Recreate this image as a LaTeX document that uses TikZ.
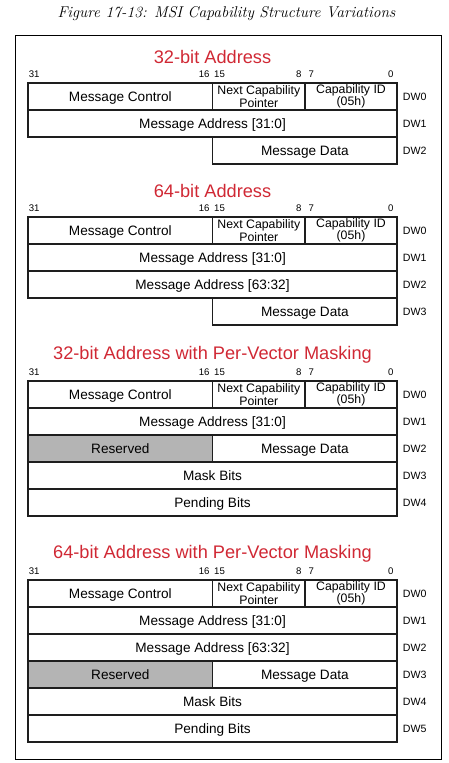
\documentclass[tikz,border=0pt]{standalone}
\usepackage{fontspec}
\setsansfont{Liberation Sans}
\definecolor{hdred}{RGB}{208,40,52}
\definecolor{resgray}{RGB}{180,180,180}
\definecolor{lineblk}{RGB}{30,30,30}
\tikzset{
  cell/.style={draw=lineblk, line width=1.3pt, rectangle, anchor=north west,
    minimum height=27pt, inner sep=0pt, outer sep=0pt,
    font=\sffamily\fontsize{13.6}{15}\selectfont},
  oneline/.style={cell, text height=9.8pt, text depth=0pt},
  twoline/.style={cell, font=\sffamily\fontsize{12.3}{11}\selectfont, align=center},
  rsv/.style={fill=resgray},
  bitnum/.style={font=\sffamily\fontsize{9.6}{10}\selectfont, inner sep=0pt},
  dwlbl/.style={font=\sffamily\fontsize{10.6}{11}\selectfont, anchor=west, inner sep=0pt},
  heading/.style={font=\sffamily\fontsize{18.2}{20}\selectfont, text=hdred, inner sep=0pt},
  frame/.style={draw=black, line width=1pt},
}
\newcommand\msihead[3]{%
  \node[heading] (#1t) at (212.5,#2-26) {#3};
  \node[bitnum, anchor=west] (#1b31) at (28.7,#2-9) {31};
  \node[bitnum, anchor=east] (#1b16) at (209.7,#2-9) {16};
  \node[bitnum, anchor=west] (#1b15) at (214,#2-9) {15};
  \node[bitnum, anchor=east] (#1b8) at (301.7,#2-9) {8};
  \node[bitnum, anchor=west] (#1b7) at (308.3,#2-9) {7};
  \node[bitnum, anchor=east] (#1b0) at (393.7,#2-9) {0};
  \node[oneline, minimum width=184.7pt] (#1mc) at (28,#2) {Message Control};
  \node[twoline, minimum width=92.3pt] (#1np) at (212.7,#2) {Next Capability\\Pointer};
  \node[twoline, minimum width=92pt] (#1ci) at (305,#2) {Capability ID\\(05h)};
  \node[dwlbl] (#1d0) at (402.7,#2+13.5) {DW0};
}
\newcommand\msifull[4]{% prefix, top, text, dw
  \node[oneline, minimum width=369pt] (#1) at (28,#2) {#3};
  \node[dwlbl] (#1l) at (402.7,#2+13.5) {#4};
}
\newcommand\msidata[3]{% prefix, top, dw
  \node[oneline, minimum width=184.3pt] (#1) at (212.7,#2) {Message Data};
  \node[dwlbl] (#1l) at (402.7,#2+13.5) {#3};
}
\newcommand\msirsv[2]{% prefix, top
  \node[oneline, rsv, minimum width=184.7pt] (#1) at (28,#2) {Reserved};
}
\begin{document}
\begin{tikzpicture}[x=1pt,y=-1pt]
\useasboundingbox (0,0) rectangle (449,763);
\node[font=\itshape\fontsize{15.6}{17}\selectfont, inner sep=0pt] (title) at (226.5,14) {Figure 17-13: MSI Capability Structure Variations};
\node[frame, rectangle, anchor=north west, minimum width=426pt, minimum height=724pt, inner sep=0pt, outer sep=0pt] (outer) at (15,35) {};
% Table 1
\msihead{a}{83}{32-bit Address}
\msifull{aw1}{110}{Message Address [31:0]}{DW1}
\msidata{aw2}{137}{DW2}
% Table 2
\msihead{b}{217}{64-bit Address}
\msifull{bw1}{244}{Message Address [31:0]}{DW1}
\msifull{bw2}{271}{Message Address [63:32]}{DW2}
\msidata{bw3}{298}{DW3}
% Table 3
\msihead{c}{381}{32-bit Address with Per-Vector Masking}
\msifull{cw1}{408}{Message Address [31:0]}{DW1}
\msirsv{cr2}{435}
\msidata{cw2}{435}{DW2}
\msifull{cw3}{462}{Mask Bits}{DW3}
\msifull{cw4}{489}{Pending Bits}{DW4}
% Table 4
\msihead{d}{580}{64-bit Address with Per-Vector Masking}
\msifull{dw1}{607}{Message Address [31:0]}{DW1}
\msifull{dw2}{634}{Message Address [63:32]}{DW2}
\msirsv{dr3}{661}
\msidata{dw3}{661}{DW3}
\msifull{dw4}{688}{Mask Bits}{DW4}
\msifull{dw5}{715}{Pending Bits}{DW5}
\end{tikzpicture}
\end{document}
